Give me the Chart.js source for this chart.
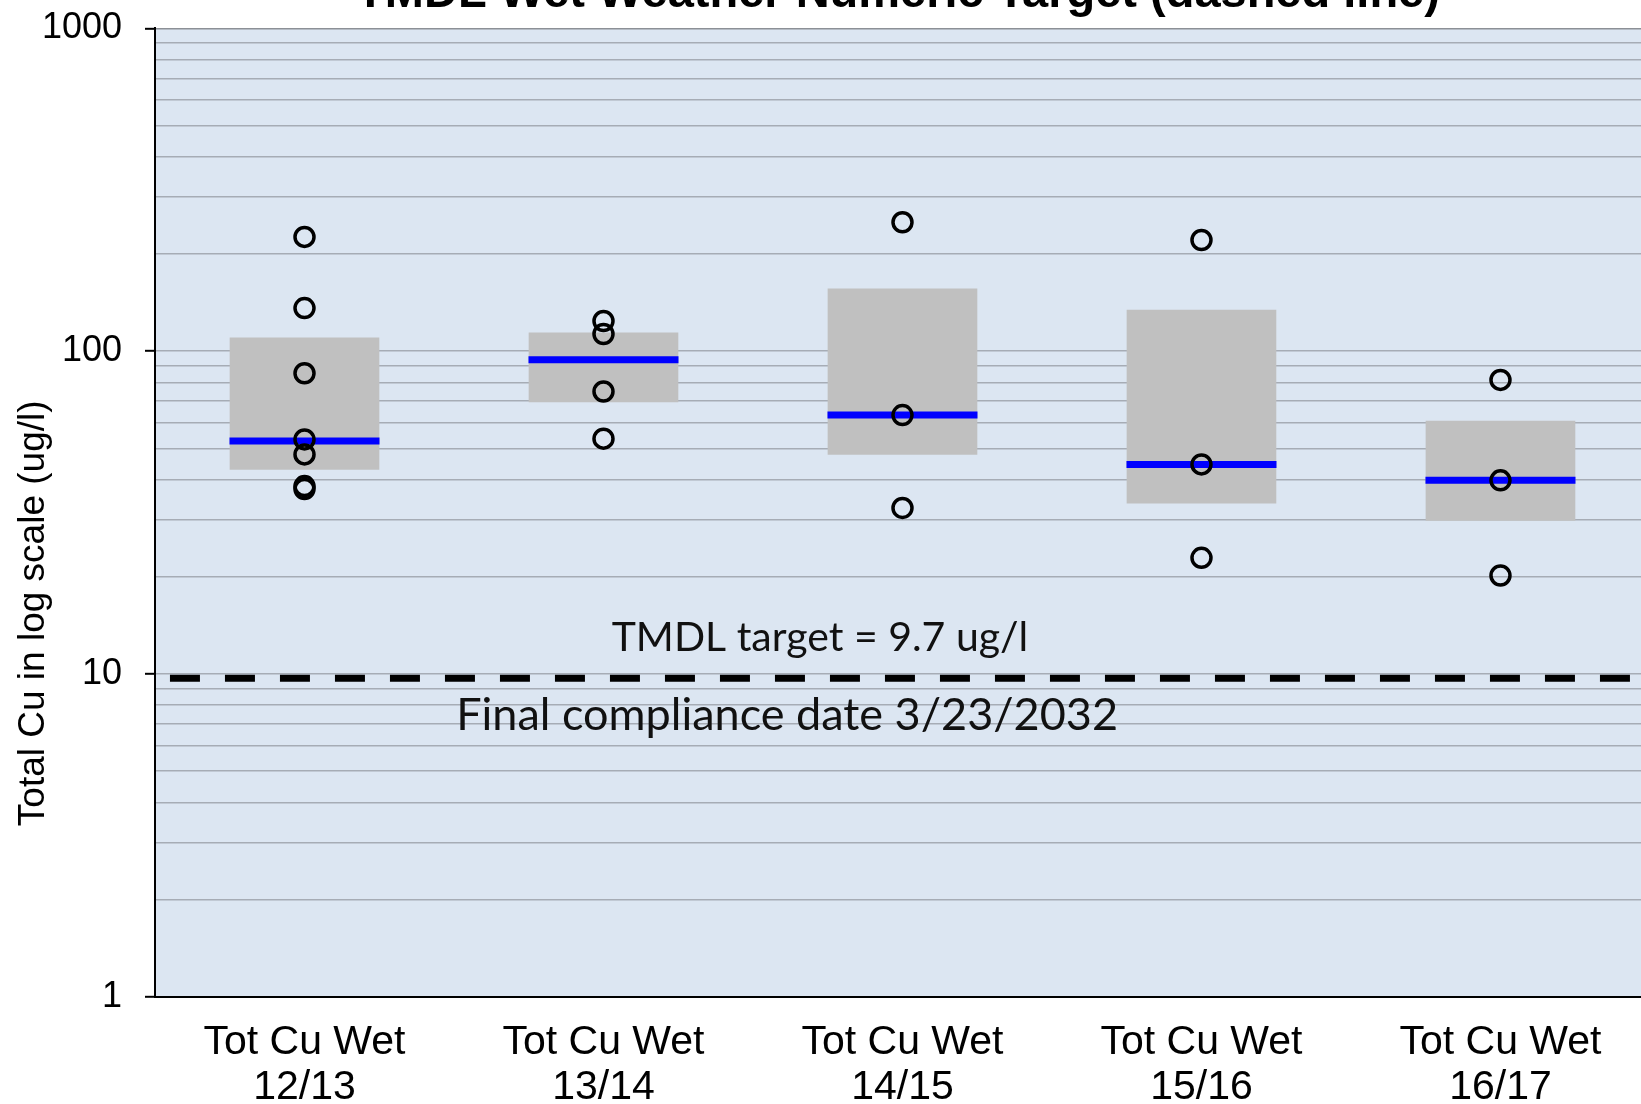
<!DOCTYPE html>
<html lang="en">
<head>
  <meta charset="UTF-8">
  <title>TMDL Wet Weather Numeric Target</title>
  <script src="https://cdn.jsdelivr.net/npm/chart.js"></script>
  <style>
    html, body {
      margin: 0;
      padding: 0;
      background: #ffffff;
      overflow: hidden;
      width: 1641px;
      height: 1104px;
    }
    #wrap {
      position: absolute;
      left: 0;
      top: -40px;
      width: 1641px;
      height: 1173px;
    }
  </style>
</head>
<body>
  <div id="wrap"><canvas id="chart"></canvas></div>

  <script>
    // categories (two-line x labels)
    const categories = [
      ['Tot Cu Wet', '12/13'],
      ['Tot Cu Wet', '13/14'],
      ['Tot Cu Wet', '14/15'],
      ['Tot Cu Wet', '15/16'],
      ['Tot Cu Wet', '16/17']
    ];

    // box = 25th..75th percentile, median drawn as a blue bar
    const boxLow = [43, 69.6, 47.9, 33.8, 29.9];
    const boxHigh = [110, 114, 156, 134, 60.8];
    const medians = [52.7, 94, 63.4, 44.6, 39.8];

    // individual samples per category
    const samples = [
      [226, 136, 85.4, 53.3, 47.9, 38.2, 37.4],
      [124, 113, 75, 53.6],
      [251, 63.4, 32.7],
      [221, 44.6, 22.9],
      [81.5, 39.8, 20.2]
    ];

    const targetValue = 9.7;
    const targetStart = -0.45;
    const targetEnd = 4.47;

    const majorTicks = [1, 10, 100, 1000];
    const minorSteps = [2, 3, 4, 5, 6, 7, 8, 9];

    const yTitle = 'Total Cu in log scale (ug/l)';

    const notes = [
      { text: 'TMDL target = 9.7 ug/l', x: 1.724, y: 11.75, size: 41 },
      { text: 'Final compliance date 3/23/2032', x: 1.614, y: 6.73, size: 45 }
    ];

    const yTicks = [];
    majorTicks.forEach((m, i) => {
      yTicks.push(m);
      if (i < majorTicks.length - 1) minorSteps.forEach(s => yTicks.push(m * s));
    });

    const sampleData = [];
    samples.forEach((vals, i) => vals.forEach(v => sampleData.push({ x: i, y: v })));

    const arial = '"Liberation Sans", Arial, sans-serif';

    const plotBg = {
      id: 'plotBg',
      beforeDraw(chart) {
        const { ctx, chartArea: a } = chart;
        ctx.save();
        ctx.fillStyle = '#dce6f2';
        ctx.fillRect(a.left, a.top, a.right - a.left, a.bottom - a.top);
        ctx.restore();
      }
    };

    // text inside the plot + the y axis title (sits low on the axis in the original)
    const noteText = {
      id: 'noteText',
      afterDatasetsDraw(chart) {
        const { ctx, scales, chartArea: a } = chart;
        ctx.save();
        ctx.fillStyle = '#111';
        ctx.textAlign = 'center';
        ctx.textBaseline = 'alphabetic';
        notes.forEach(n => {
          ctx.font = n.size + 'px Lato, "Open Sans", sans-serif';
          ctx.fillText(n.text, scales.x.getPixelForValue(n.x), scales.y.getPixelForValue(n.y));
        });
        ctx.restore();

        ctx.save();
        ctx.translate(a.left - 121, a.top + (a.bottom - a.top) * 0.604);
        ctx.rotate(-Math.PI / 2);
        ctx.fillStyle = '#000';
        ctx.font = '37px ' + arial;
        ctx.textAlign = 'center';
        ctx.textBaseline = 'middle';
        ctx.fillText(yTitle, 0, 0);
        ctx.restore();
      }
    };

    new Chart(document.getElementById('chart'), {
      type: 'scatter',
      data: {
        datasets: [
          {
            type: 'line',
            label: 'TMDL target',
            data: [{ x: targetStart, y: targetValue }, { x: targetEnd, y: targetValue }],
            borderColor: '#000',
            borderWidth: 7,
            borderDash: [30, 25],
            borderCapStyle: 'butt',
            pointRadius: 0,
            order: 0
          },
          {
            label: 'Samples',
            data: sampleData,
            pointStyle: 'circle',
            pointRadius: 9.5,
            pointBorderWidth: 3.5,
            pointBorderColor: '#000',
            pointBackgroundColor: 'rgba(0,0,0,0)',
            order: 1
          },
          {
            label: 'Median',
            data: medians.map((m, i) => ({ x: i, y: m })),
            pointStyle: 'line',
            pointRadius: 75,
            pointBorderWidth: 7,
            pointBorderColor: '#0000ff',
            order: 2
          },
          {
            type: 'bar',
            label: 'Range',
            data: boxLow.map((lo, i) => ({ x: i, y: [lo, boxHigh[i]] })),
            backgroundColor: '#c0c0c0',
            borderWidth: 0,
            barThickness: 149,
            order: 3
          }
        ]
      },
      options: {
        responsive: true,
        maintainAspectRatio: false,
        animation: false,
        layout: { autoPadding: false, padding: 0 },
        plugins: {
          legend: { display: false },
          tooltip: { enabled: false },
          title: {
            display: true,
            fullSize: false,
            text: 'TMDL Wet Weather Numeric Target (dashed line)',
            color: '#000',
            font: { family: arial, size: 47, weight: 'bold', lineHeight: 1.2 },
            padding: { top: 6, bottom: 6 }
          }
        },
        scales: {
          x: {
            type: 'linear',
            offset: false,
            min: -0.5,
            max: targetEnd,
            afterBuildTicks: s => { s.ticks = categories.map((c, i) => ({ value: i })); },
            ticks: {
              autoSkip: false,
              maxRotation: 0,
              padding: 23,
              color: '#000',
              font: { family: arial, size: 41, lineHeight: 1.1 },
              callback: v => categories[v]
            },
            grid: { display: false, drawTicks: false, offset: false },
            border: { color: '#000', width: 2 }
          },
          y: {
            type: 'logarithmic',
            min: 1,
            max: 1000,
            afterBuildTicks: s => { s.ticks = yTicks.map(v => ({ value: v, major: majorTicks.includes(v) })); },
            afterFit: s => { s.width = 155; },
            ticks: {
              autoSkip: false,
              padding: 23,
              color: '#000',
              font: { family: arial, size: 36 },
              callback: v => majorTicks.includes(v) ? String(v) : ''
            },
            grid: {
              color: c => c.tick && c.tick.value === 1000 ? '#8c9096' : '#a6acb5',
              lineWidth: 1.6,
              tickLength: 10,
              tickWidth: 2,
              tickColor: c => c.tick && majorTicks.includes(c.tick.value) ? '#000' : 'rgba(0,0,0,0)'
            },
            border: { color: '#000', width: 2 }
          }
        }
      },
      plugins: [plotBg, noteText]
    });
  </script>
</body>
</html>
